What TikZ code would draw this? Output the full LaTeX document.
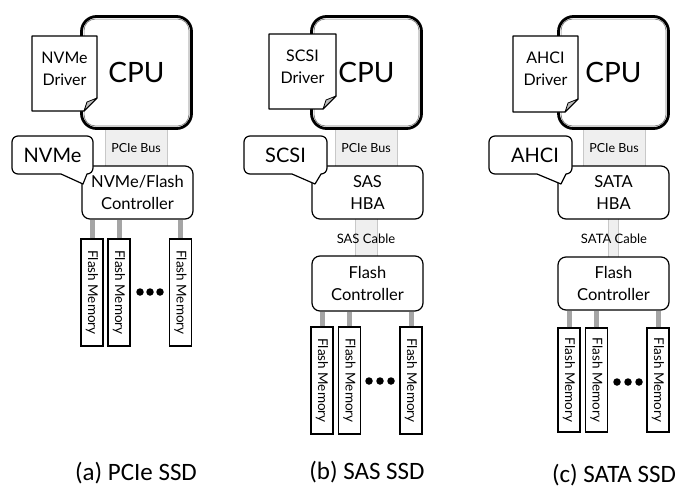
\documentclass[tikz,border=0pt]{standalone}
\usepackage{graphicx}
\usepackage{fontspec}
\setmainfont{Lato}
\newfontfamily\capfont{Carlito}
\definecolor{busfill}{HTML}{EFEFEF}
\definecolor{busline}{HTML}{C8C8C8}
\definecolor{linkgray}{HTML}{A5A5A5}
\definecolor{foldgray}{HTML}{BFBFBF}
\definecolor{innergray}{HTML}{7A7A7A}
% callout: #1 left, #2 right, #3 tip x, #4 tail base x
\newcommand\mycallout[4]{%
  \draw[callshape] ({#1+6},136) -- ({#2-6},136) arc[start angle=90,end angle=0,radius=6pt]
    -- (#2,168) arc[start angle=0,end angle=-90,radius=6pt]
    -- (#3,184) -- (#4,174) -- ({#1+6},174) arc[start angle=270,end angle=180,radius=6pt]
    -- (#1,142) arc[start angle=180,end angle=90,radius=6pt] -- cycle;}
% note: #1 left, #2 right, #3 top, #4 bottom
\newcommand\mynote[4]{%
  \draw[noteshape] (#1,#3) -- (#2,#3) -- (#2,{#4-13}) -- ({#2-13},#4) -- (#1,#4) -- cycle;
  \draw[foldshape] (#2,{#4-13}) -- ({#2-10},{#4-9}) -- ({#2-13},#4) -- cycle;}
% inner line of a CPU box
\newcommand\cpuinner[1]{%
  \draw[innerline] ([shift={(4,4)}]#1.north west) rectangle ([shift={(-4,-4)}]#1.south east);}
\begin{document}
\begin{tikzpicture}[x=1pt,y=-1pt,
  box/.style={draw, line width=1.2pt, rounded corners=8pt, fill=white, align=center,
    font=\fontsize{16.5}{21.5}\selectfont, inner sep=0pt},
  cpubox/.style={draw, line width=2.8pt, rounded corners=15pt, fill=white,
    minimum width=110pt, minimum height=112pt, inner sep=0pt, font=\fontsize{28}{30}\selectfont},
  innerline/.style={draw=innergray, line width=0.7pt, rounded corners=11pt},
  bus/.style={draw=busline, fill=busfill, line width=0.8pt, inner sep=0pt,
    font=\fontsize{12.5}{14}\selectfont},
  memstyle/.style={draw, line width=1.2pt, fill=white, minimum width=22pt,
    inner sep=0pt, font=\fontsize{13.5}{15}\selectfont},
  link/.style={draw=linkgray, line width=5pt},
  dotstyle/.style={circle, fill=black, minimum size=7.5pt, inner sep=0pt},
  notetext/.style={align=center, font=\fontsize{16}{22}\selectfont, inner sep=0pt},
  calltext/.style={font=\fontsize{20}{22}\selectfont, inner sep=0pt},
  captext/.style={font=\capfont\fontsize{25}{28}\selectfont, inner sep=0pt, anchor=base},
  callshape/.style={draw, line width=1.2pt, fill=white, line join=round},
  noteshape/.style={draw, line width=1.2pt, fill=white, line join=round},
  foldshape/.style={draw, line width=0.8pt, fill=foldgray, line join=round},
]
\useasboundingbox (0,0) rectangle (680,488);

%% ---------------- (a) PCIe SSD ----------------
\node[bus, minimum width=62pt, minimum height=42pt] (busA) at (136,148) {PCIe Bus};
\node[cpubox] (cpuA) at (136.5,72.5) {CPU};
\cpuinner{cpuA}
\mynote{32}{97}{36}{111}
\node[notetext] (noteA) at (64.5,69) {NVMe\\Driver};
\node[box, minimum width=111pt, minimum height=53pt] (ctrlA) at (137.5,192.5) {NVMe/Flash\\Controller};
\mycallout{12}{93}{83}{61}
\node[calltext] (callA) at (52.5,155.5) {NVMe};
\node[memstyle, minimum height=107pt] (memA1) at (92,292.5) {\rotatebox{-90}{Flash Memory}};
\node[memstyle, minimum height=107pt] (memA2) at (119,292.5) {\rotatebox{-90}{Flash Memory}};
\node[memstyle, minimum height=107pt] (memA3) at (180.5,292.5) {\rotatebox{-90}{Flash Memory}};
\draw[link] (memA1.north) -- (memA1.north |- ctrlA.south);
\draw[link] (memA2.north) -- (memA2.north |- ctrlA.south);
\draw[link] (memA3.north) -- (memA3.north |- ctrlA.south);
\node[dotstyle] (dA1) at (140,292) {};
\node[dotstyle] (dA2) at (150,292) {};
\node[dotstyle] (dA3) at (160,292) {};
\node[captext] (capA) at (136,480) {(a) PCIe SSD};

%% ---------------- (b) SAS SSD ----------------
\node[bus, minimum width=62pt, minimum height=42pt] (busB) at (366,148) {PCIe Bus};
\node[cpubox] (cpuB) at (366.5,72.5) {CPU};
\cpuinner{cpuB}
\mynote{269}{336}{34}{109}
\node[notetext] (noteB) at (302.5,67) {SCSI\\Driver};
\node[bus, minimum width=22pt, minimum height=42pt] (cableB) at (366,238) {};
\node[box, minimum width=111pt, minimum height=53pt] (ctrlB) at (367.5,192.5) {SAS\\HBA};
\mycallout{244}{327}{315}{292}
\node[calltext] (callB) at (285.5,155.5) {SCSI};
\node[font=\fontsize{13}{14}\selectfont, inner sep=0pt] (cableBl) at (366,239) {SAS Cable};
\node[box, minimum width=111pt, minimum height=55pt] (fcB) at (367.5,283.5) {Flash\\Controller};
\node[memstyle, minimum height=107pt] (memB1) at (322,380.5) {\rotatebox{-90}{Flash Memory}};
\node[memstyle, minimum height=107pt] (memB2) at (349.5,380.5) {\rotatebox{-90}{Flash Memory}};
\node[memstyle, minimum height=107pt] (memB3) at (411,380.5) {\rotatebox{-90}{Flash Memory}};
\draw[link] (memB1.north) -- (memB1.north |- fcB.south);
\draw[link] (memB2.north) -- (memB2.north |- fcB.south);
\draw[link] (memB3.north) -- (memB3.north |- fcB.south);
\node[dotstyle] (dB1) at (369,381) {};
\node[dotstyle] (dB2) at (380,381) {};
\node[dotstyle] (dB3) at (391,381) {};
\node[captext] (capB) at (367,479) {(b) SAS SSD};

%% ---------------- (c) SATA SSD ----------------
\node[bus, minimum width=62pt, minimum height=42pt] (busC) at (614,148) {PCIe Bus};
\node[cpubox] (cpuC) at (613.5,72.5) {CPU};
\cpuinner{cpuC}
\mynote{513}{578}{36}{112}
\node[notetext] (noteC) at (545.5,69) {AHCI\\Driver};
\node[bus, minimum width=10pt, minimum height=42pt] (cableC) at (613,238) {};
\node[box, minimum width=111pt, minimum height=53pt] (ctrlC) at (613.5,192.5) {SATA\\HBA};
\mycallout{489}{572}{561}{537}
\node[calltext] (callC) at (535,155.5) {AHCI};
\node[font=\fontsize{13}{14}\selectfont, inner sep=0pt] (cableCl) at (614,239) {SATA Cable};
\node[box, minimum width=111pt, minimum height=53pt] (fcC) at (613.5,283.5) {Flash\\Controller};
\node[memstyle, minimum height=104pt] (memC1) at (569,380) {\rotatebox{-90}{Flash Memory}};
\node[memstyle, minimum height=104pt] (memC2) at (596.5,380) {\rotatebox{-90}{Flash Memory}};
\node[memstyle, minimum height=104pt] (memC3) at (658,380) {\rotatebox{-90}{Flash Memory}};
\draw[link] (memC1.north) -- (memC1.north |- fcC.south);
\draw[link] (memC2.north) -- (memC2.north |- fcC.south);
\draw[link] (memC3.north) -- (memC3.north |- fcC.south);
\node[dotstyle] (dC1) at (617,382) {};
\node[dotstyle] (dC2) at (628,382) {};
\node[dotstyle] (dC3) at (639,382) {};
\node[captext] (capC) at (614,482) {(c) SATA SSD};
\end{tikzpicture}
\end{document}
